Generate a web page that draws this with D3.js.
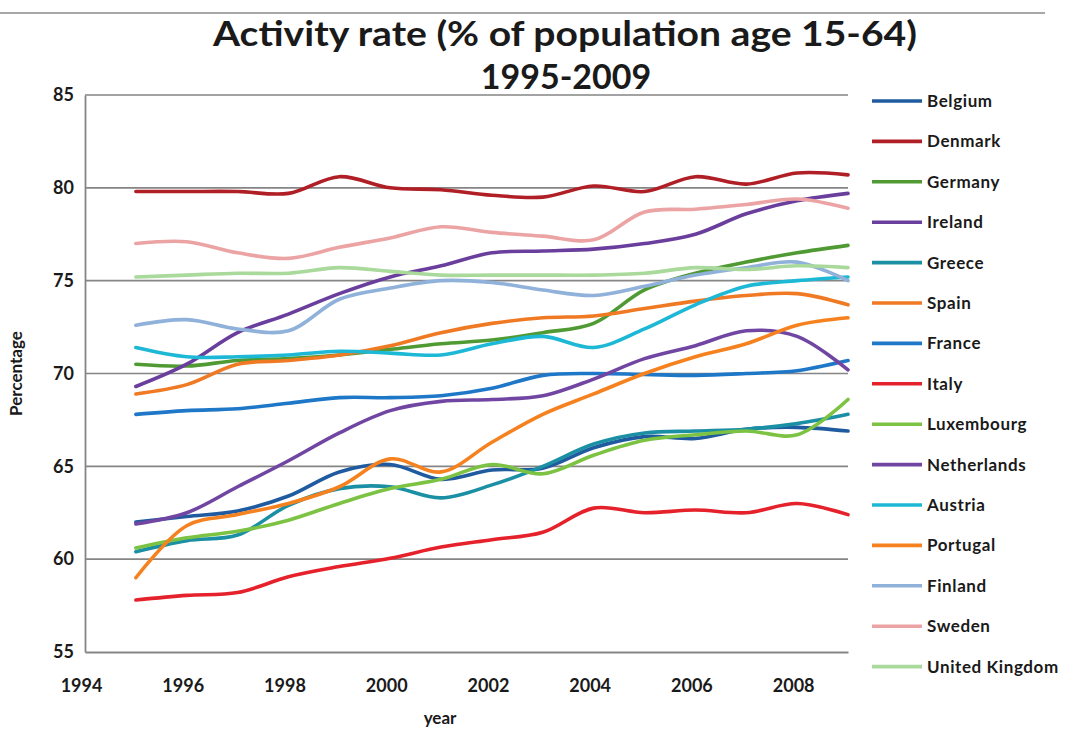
<!DOCTYPE html>
<html>
<head>
<meta charset="utf-8">
<script src="https://cdn.jsdelivr.net/npm/d3@7"></script>
<style>
    body { margin: 0; background: #fff; }
    text { font-family: Lato, "Open Sans", sans-serif; fill: #1a1a1a; }
</style>
</head>
<body>
<svg id="chart" width="1084" height="732"></svg>
<script>
// activity rate, % of population 15-64
var years = [1995, 1996, 1997, 1998, 1999, 2000, 2001, 2002, 2003, 2004, 2005, 2006, 2007, 2008, 2009];

var belgium     = [62.0, 62.3, 62.6, 63.4, 64.7, 65.1, 64.3, 64.8, 64.9, 66.0, 66.6, 66.5, 67.0, 67.1, 66.9];
var denmark     = [79.8, 79.8, 79.8, 79.7, 80.6, 80.0, 79.9, 79.6, 79.5, 80.1, 79.8, 80.6, 80.2, 80.8, 80.7];
var germany     = [70.5, 70.4, 70.7, 70.8, 71.0, 71.3, 71.6, 71.8, 72.2, 72.7, 74.5, 75.4, 76.0, 76.5, 76.9];
var ireland     = [69.3, 70.5, 72.2, 73.2, 74.3, 75.2, 75.8, 76.5, 76.6, 76.7, 77.0, 77.5, 78.6, 79.3, 79.7];
var greece      = [60.4, 61.0, 61.3, 62.9, 63.8, 63.9, 63.3, 64.0, 65.0, 66.2, 66.8, 66.9, 67.0, 67.3, 67.8];
var spain       = [68.9, 69.4, 70.5, 70.7, 71.0, 71.5, 72.2, 72.7, 73.0, 73.1, 73.5, 73.9, 74.2, 74.3, 73.7];
var france      = [67.8, 68.0, 68.1, 68.4, 68.7, 68.7, 68.8, 69.2, 69.9, 70.0, 69.95, 69.9, 70.0, 70.15, 70.7];
var italy       = [57.8, 58.05, 58.2, 59.05, 59.6, 60.05, 60.65, 61.05, 61.45, 62.75, 62.5, 62.65, 62.5, 63.0, 62.4];
var luxembourg  = [60.6, 61.15, 61.5, 62.1, 63.0, 63.8, 64.3, 65.1, 64.6, 65.6, 66.4, 66.7, 66.9, 66.7, 68.6];
var netherlands = [61.9, 62.5, 63.9, 65.3, 66.8, 68.0, 68.5, 68.6, 68.8, 69.7, 70.8, 71.5, 72.3, 72.0, 70.2];
var austria     = [71.4, 70.9, 70.9, 71.0, 71.2, 71.1, 71.0, 71.6, 72.0, 71.4, 72.4, 73.7, 74.7, 75.0, 75.2];
var portugal    = [59.0, 61.8, 62.4, 63.0, 63.9, 65.4, 64.7, 66.3, 67.8, 68.9, 70.0, 70.9, 71.6, 72.6, 73.0];
var finland     = [72.6, 72.9, 72.4, 72.3, 74.0, 74.6, 75.0, 74.9, 74.5, 74.2, 74.7, 75.3, 75.7, 76.0, 75.0];
var sweden      = [77.0, 77.1, 76.5, 76.2, 76.8, 77.3, 77.9, 77.6, 77.4, 77.2, 78.7, 78.85, 79.1, 79.4, 78.9];
var uk          = [75.2, 75.3, 75.4, 75.4, 75.7, 75.5, 75.3, 75.3, 75.3, 75.3, 75.4, 75.7, 75.6, 75.8, 75.7];

var countries = ["Belgium", "Denmark", "Germany", "Ireland", "Greece", "Spain", "France", "Italy",
    "Luxembourg", "Netherlands", "Austria", "Portugal", "Finland", "Sweden", "United Kingdom"];
var values = [belgium, denmark, germany, ireland, greece, spain, france, italy,
    luxembourg, netherlands, austria, portugal, finland, sweden, uk];
var colors = ["#1f5b9e", "#b01e26", "#4f9a32", "#6a3e9c", "#1b8fa3", "#f07a24", "#1f77c8", "#e5222b",
    "#7cc243", "#7146a3", "#1cb8d6", "#f5821f", "#8fb1da", "#eba3a3", "#a9d99b"];

var xTicks = [1994, 1996, 1998, 2000, 2002, 2004, 2006, 2008];
var yTicks = [55, 60, 65, 70, 75, 80, 85];

var svg = d3.select("#chart");

var margin = {top: 95, left: 85, bottom: 80, right: 236},
    width = 1084,
    height = 732;

var x = d3.scaleLinear()
    .domain([1994, 2009])
    .range([margin.left, width - margin.right]);

var y = d3.scaleLinear()
    .domain([55, 85])
    .range([height - margin.bottom, margin.top]);

// rule at the very top of the scan
svg.append("line")
    .attr("x1", 0).attr("x2", 1045)
    .attr("y1", 13).attr("y2", 13)
    .attr("stroke", "#8a8a8a")
    .attr("stroke-width", 1.5);

// title
svg.append("text")
    .attr("x", 565).attr("y", 46)
    .attr("text-anchor", "middle")
    .style("font-size", "34px")
    .style("font-weight", "bold")
    .attr("textLength", 704)
    .attr("lengthAdjust", "spacingAndGlyphs")
    .text("Activity rate (% of population age 15-64)");

svg.append("text")
    .attr("x", 566).attr("y", 89)
    .attr("text-anchor", "middle")
    .style("font-size", "34px")
    .style("font-weight", "bold")
    .text("1995-2009");

// grid
svg.append("g")
    .attr("class", "grid")
    .selectAll("line")
    .data(yTicks.slice(1))
    .enter().append("line")
    .attr("x1", x(1994)).attr("x2", x(2009))
    .attr("y1", d => y(d)).attr("y2", d => y(d))
    .attr("stroke", "#858585")
    .attr("stroke-width", 1.6);

// axes
var yAxis = svg.append("g")
    .attr("transform", `translate(${x(1994)},0)`)
    .call(d3.axisLeft(y).tickValues(yTicks).tickSize(0).tickPadding(11));

var xAxis = svg.append("g")
    .attr("transform", `translate(0,${y(55)})`)
    .call(d3.axisBottom(x).tickValues(xTicks).tickFormat(d3.format("d")).tickSize(0).tickPadding(27));

svg.selectAll(".domain")
    .attr("stroke", "#858585")
    .attr("stroke-width", 1.8);

svg.selectAll(".tick text")
    .style("font-size", "18px")
    .style("font-weight", "bold")
    .attr("fill", "#1a1a1a");

xAxis.selectAll(".tick text")
    .attr("dx", "-4px");

svg.append("text")
    .attr("transform", `translate(22,${y(70)}) rotate(-90)`)
    .attr("text-anchor", "middle")
    .style("font-size", "17px")
    .style("font-weight", "bold")
    .text("Percentage");

svg.append("text")
    .attr("x", 440).attr("y", 724)
    .attr("text-anchor", "middle")
    .style("font-size", "17px")
    .style("font-weight", "bold")
    .text("year");

// lines
var line = d3.line()
    .x((d, i) => x(years[i]))
    .y(d => y(d))
    .curve(d3.curveCatmullRom.alpha(0.5));

svg.append("g")
    .selectAll("path")
    .data(values)
    .enter().append("path")
    .attr("d", d => line(d))
    .attr("fill", "none")
    .attr("stroke", (d, i) => colors[i])
    .attr("stroke-width", 3.6)
    .attr("stroke-linecap", "round");

// legend
var legend = svg.append("g")
    .selectAll("g")
    .data(countries)
    .enter().append("g")
    .attr("transform", (d, i) => `translate(872,${101 + i * 40.4})`);

legend.append("line")
    .attr("x1", 0).attr("x2", 50)
    .attr("stroke", (d, i) => colors[i])
    .attr("stroke-width", 3.6);

legend.append("text")
    .attr("x", 55)
    .attr("dy", "0.35em")
    .style("font-size", "17px")
    .style("font-weight", "bold")
    .style("letter-spacing", "0.6px")
    .text(d => d);
</script>
</body>
</html>
